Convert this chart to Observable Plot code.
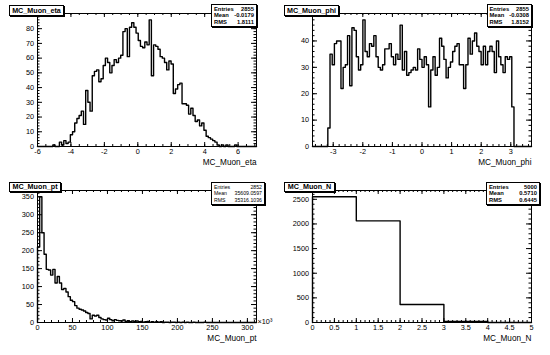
<!DOCTYPE html>
<html><head><meta charset="utf-8">
<script src="https://cdn.jsdelivr.net/npm/d3@7"></script>
<script src="https://cdn.jsdelivr.net/npm/@observablehq/plot@0.6"></script>
<style>
body{margin:0;background:#fff;}
#root{position:relative;width:550px;height:355px;background:#fff;font-family:"Liberation Sans",Arial,Helvetica,sans-serif;overflow:hidden;color:#000}
.pad{position:absolute;width:275px;height:178px}
.pad svg{position:absolute;left:0;top:0}
.title{position:absolute;box-sizing:border-box;background:#fff;border:1px solid #000;box-shadow:1px 1px 0 #000;font-weight:bold;font-size:7.2px;text-align:center;white-space:nowrap;overflow:hidden}
.stats{position:absolute;box-sizing:border-box;background:#fff;border:1px solid #000;box-shadow:1px 1px 0 #000;font-weight:bold;white-space:nowrap;padding:0 2px}
.stats .row{display:flex;justify-content:space-between}
</style>
</head><body>
<div id="root"></div>
<script>
// ---------- data ----------
const etaCounts = [0,0,0,0,0,0,0,1,0,0,
 3,1,4,2,3,8,10,16,19,21,
 24,15,38,30,24,48,51,52,44,46,
 55,60,57,50,55,59,57,60,62,78,
 80,61,81,84,81,77,72,68,67,71,
 69,86,48,69,68,66,61,60,57,52,
 58,56,36,39,42,43,29,29,28,22,
 26,21,17,18,14,16,11,7,6,5,
 4,3,1,0,1,0,1,0,0,0,
 1,0,0,0,0,0,0,0,0,0];
const phiCounts = [0,0,0,0,0,0,0,7,35,31,
 39,40,40,22,30,31,42,23,45,44,
 34,29,31,48,36,34,39,38,42,34,
 30,29,31,37,37,39,34,31,35,33,
 46,29,36,27,28,29,30,29,37,33,
 30,34,31,15,29,34,27,30,41,38,
 33,26,30,32,36,38,39,31,31,22,
 31,41,35,40,43,38,36,31,38,31,
 36,38,36,28,40,34,31,28,34,33,
 34,15,0,0,0,0,0,0,0,0];
const ptCounts = [210,350,250,190,148,146,132,148,110,128,
 110,92,95,85,72,62,58,47,40,37,
 35,32,28,25,10,20,18,20,14,10,
 8,7,12,8,5,8,6,5,4,7,
 3,5,2,4,3,4,2,3,1,2,
 3,1,2,1,2,1,2,0,1,1,
 0,1,1,0,1,0,1,0,1,0,
 0,1,0,0,0,0,1,0,0,0,
 0,0,0,0,0,0,0,0,0,0,
 0,0,0,0,0,0,0,0,0,0];
const nCounts = [2551,2063,366,20,0];

const titles = ["MC_Muon_eta","MC_Muon_phi","MC_Muon_pt","MC_Muon_N"];
const statLabels = ["Entries","Mean","RMS"];
const etaStats = ["2855","-0.0179","1.8111"];
const phiStats = ["2855","-0.0308","1.8152"];
const ptStats = ["2852","35609.0597","35316.1036"];
const nStats = ["5000","0.5710","0.6445"];

const etaXTicks = [-6,-4,-2,0,2,4,6];
const etaYTicks = [0,10,20,30,40,50,60,70,80,90];
const phiXTicks = [-3,-2,-1,0,1,2,3];
const phiYTicks = [0,10,20,30,40,50];
const ptXTicks = [0,50,100,150,200,250,300];
const ptYTicks = [0,50,100,150,200,250,300,350];
const nXTicks = [0,0.5,1,1.5,2,2.5,3,3.5,4,4.5,5];
const nYTicks = [0,500,1000,1500,2000,2500];
const ptUnit = "×10³";

// ---------- drawing ----------
const fmt = d => String(Math.round(d*1000)/1000);
function steps(counts, lo, hi){
  const w = (hi-lo)/counts.length;
  const pts = [{x:lo,y:0}];
  counts.forEach((c,i)=>pts.push({x:lo+i*w,y:c}));
  pts.push({x:hi,y:0});
  return pts;
}
function panel(o){
  const W=275,H=178,ml=37,mr=19,mt=13,mb=o.mb;
  const fw=W-ml-mr, fh=H-mt-mb;
  const yTop = d3.max(o.counts)*1.05;
  const xMinor = d3.range(Math.ceil(o.xDomain[0]/o.xMinStep-1e-6)*o.xMinStep, o.xDomain[1]+1e-9, o.xMinStep);
  const yMinor = d3.range(0, yTop, o.yMinStep);
  const yMajor = o.yTicks.filter(v=>v<=yTop);
  const marks = [
    Plot.frame({stroke:"#000",strokeWidth:1}),
    Plot.tickX(o.xTicks,{x:d=>d,insetTop:fh-4,stroke:"#000"}),
    Plot.tickX(o.xTicks,{x:d=>d,insetBottom:fh-4,stroke:"#000"}),
    Plot.tickX(xMinor,{x:d=>d,insetTop:fh-2,stroke:"#000"}),
    Plot.tickX(xMinor,{x:d=>d,insetBottom:fh-2,stroke:"#000"}),
    Plot.tickY(yMajor,{y:d=>d,insetRight:fw-5,stroke:"#000"}),
    Plot.tickY(yMajor,{y:d=>d,insetLeft:fw-5,stroke:"#000"}),
    Plot.tickY(yMinor,{y:d=>d,insetRight:fw-2.5,stroke:"#000"}),
    Plot.tickY(yMinor,{y:d=>d,insetLeft:fw-2.5,stroke:"#000"}),
    Plot.axisX(o.xTicks,{tickSize:0,tickPadding:2,tickFormat:fmt,label:null,fontSize:7.3}),
    Plot.axisY(yMajor,{tickSize:0,tickPadding:3.5,tickFormat:fmt,label:null,fontSize:7.3}),
    Plot.line(steps(o.counts,o.lo,o.hi),{x:"x",y:"y",curve:"step-after",stroke:"#000",strokeWidth:1.4}),
    Plot.text([o.title],{frameAnchor:"bottom-right",text:d=>d,dy:18,fontSize:8.2})
  ];
  if (o.unit) marks.push(Plot.text([o.unit],{frameAnchor:"bottom-right",text:d=>d,textAnchor:"start",lineAnchor:"middle",dx:1,dy:-1,fontSize:7.3}));
  return Plot.plot({
    width:W,height:H,marginLeft:ml,marginRight:mr,marginTop:mt,marginBottom:mb,
    x:{domain:o.xDomain,axis:null},
    y:{domain:[0,yTop],axis:null},
    style:{fontFamily:"'Liberation Sans',Arial,Helvetica,sans-serif",fontSize:"7.3px",color:"#000",background:"transparent",overflow:"visible"},
    marks
  });
}
function addPad(left, top, o, tb, sb){
  const pad = document.createElement("div");
  pad.className="pad"; pad.style.left=left+"px"; pad.style.top=top+"px";
  pad.appendChild(panel(o));
  const t = document.createElement("div");
  t.className="title"; t.textContent=o.title;
  Object.assign(t.style,{left:tb[0]+"px",top:tb[1]+"px",width:tb[2]+"px",height:tb[3]+"px",lineHeight:(tb[3]-2)+"px"});
  pad.appendChild(t);
  const s = document.createElement("div");
  s.className="stats";
  Object.assign(s.style,{left:sb[0]+"px",top:sb[1]+"px",width:sb[2]+"px",fontSize:sb[4]+"px",paddingTop:"0.5px",paddingBottom:"0.5px",fontWeight:sb[6]});
  statLabels.forEach((lab,i)=>{
    const r=document.createElement("div"); r.className="row";
    r.style.height=sb[5]+"px"; r.style.lineHeight=sb[5]+"px";
    const a=document.createElement("span"); a.textContent=lab;
    const b=document.createElement("span"); b.textContent=o.stats[i];
    r.appendChild(a); r.appendChild(b); s.appendChild(r);
  });
  pad.appendChild(s);
  document.getElementById("root").appendChild(pad);
}
addPad(0,0,{counts:etaCounts,lo:-6,hi:7.1,xDomain:[-6,7.1],xTicks:etaXTicks,xMinStep:0.5,yTicks:etaYTicks,yMinStep:2,title:titles[0],stats:etaStats,mb:32},
  [9,5,55,11],[211,4,46,21,5.8,6.5,"bold"]);
addPad(275,0,{counts:phiCounts,lo:-3.7,hi:3.7,xDomain:[-3.7,3.7],xTicks:phiXTicks,xMinStep:0.2,yTicks:phiYTicks,yMinStep:2,title:titles[1],stats:phiStats,mb:32},
  [9,5,55,11],[211.5,4,45.5,21,5.8,6.5,"bold"]);
addPad(0,177,{counts:ptCounts,lo:0,hi:313,xDomain:[0,313],xTicks:ptXTicks,xMinStep:10,yTicks:ptYTicks,yMinStep:10,title:titles[2],stats:ptStats,mb:33,unit:ptUnit},
  [9,5,52,10],[211,5,54,21,5.2,6.5,"normal"]);
addPad(275,177,{counts:nCounts,lo:0,hi:5,xDomain:[0,5],xTicks:nXTicks,xMinStep:0.1,yTicks:nYTicks,yMinStep:100,title:titles[3],stats:nStats,mb:33},
  [9,5,51,10],[211,5,54,21,5.8,6.5,"bold"]);
</script>
</body></html>
